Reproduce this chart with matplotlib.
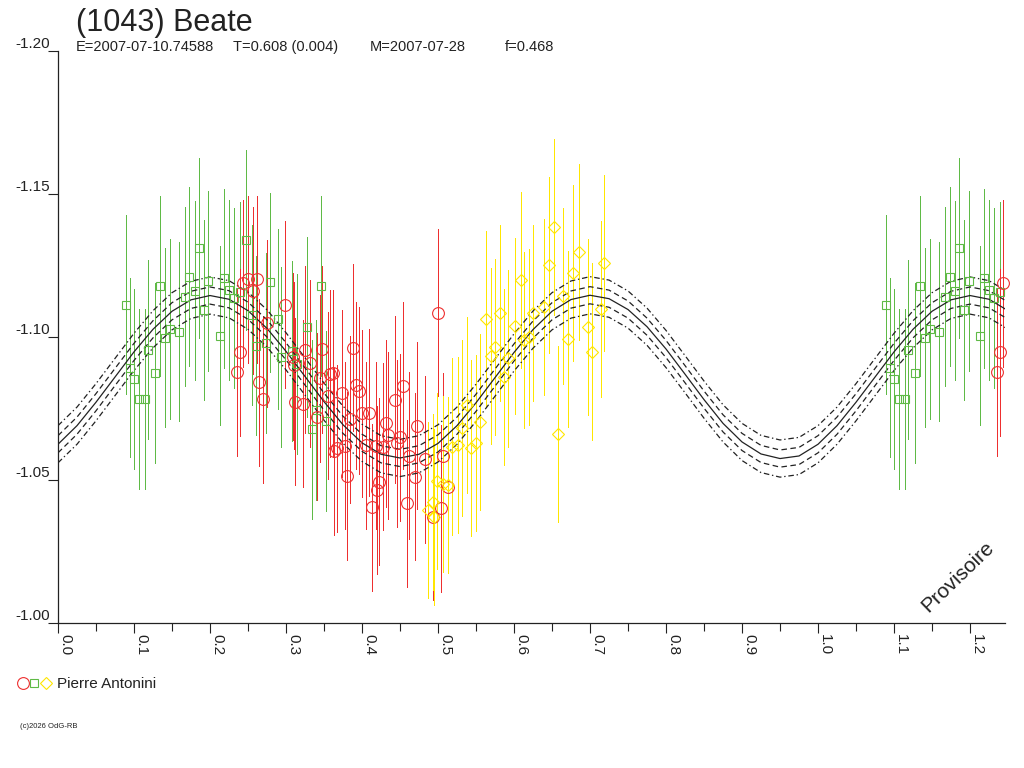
import numpy as np
import matplotlib
matplotlib.use("Agg")
import matplotlib.pyplot as plt
from matplotlib.lines import Line2D
from matplotlib.ticker import MultipleLocator, FormatStrFormatter

plt.rcParams['font.family'] = ['Liberation Sans', 'DejaVu Sans']
plt.rcParams['axes.unicode_minus'] = False
plt.rcParams['lines.scale_dashes'] = False

# fitted lightcurve, one rotation, phase step 0.025
fit_phase = np.linspace(0.0, 1.0, 41)
fit_mag = [-1.0625, -1.0690, -1.0772, -1.0860, -1.0948, -1.1027, -1.1090, -1.1130,
           -1.1145, -1.1132, -1.1092, -1.1030, -1.0950, -1.0862, -1.0774, -1.0693,
           -1.0630, -1.0590, -1.0577, -1.0590, -1.0628, -1.0690, -1.0770, -1.0858,
           -1.0946, -1.1026, -1.1090, -1.1131, -1.1146, -1.1134, -1.1096, -1.1036,
           -1.0958, -1.0870, -1.0781, -1.0698, -1.0633, -1.0591, -1.0575, -1.0584,
           -1.0625]
band_inner = 0.003
band_outer = 0.0065

# session 1 (green squares)
green_phase = [0.089, 0.095, 0.100, 0.107, 0.114, 0.119, 0.128, 0.134, 0.141, 0.147,
               0.159, 0.167, 0.173, 0.180, 0.186, 0.192, 0.198, 0.213, 0.218, 0.225,
               0.232, 0.239, 0.247, 0.255, 0.261, 0.274, 0.279, 0.289, 0.294, 0.308,
               0.314, 0.327, 0.334, 0.340, 0.346, 0.353]
green_mag = [-1.1113, -1.0893, -1.0854, -1.0784, -1.0784, -1.0956, -1.0875, -1.1178,
             -1.0998, -1.1029, -1.1019, -1.1141, -1.1211, -1.1162, -1.1312, -1.1094,
             -1.1195, -1.1005, -1.1205, -1.1165, -1.1136, -1.1158, -1.1339, -1.1077,
             -1.0970, -1.0980, -1.1191, -1.1062, -1.0931, -1.0951, -1.0906, -1.1036,
             -1.0677, -1.0745, -1.1178, -1.0707]
green_err = 0.0314

# session 2 (red circles)
red_phase = [0.2350, 0.2395, 0.2438, 0.2504, 0.2570, 0.2614, 0.2649, 0.2701, 0.2746,
             0.2987, 0.3096, 0.3105, 0.3118, 0.3228, 0.3250, 0.3316, 0.3404, 0.3447,
             0.3470, 0.3557, 0.3579, 0.3622, 0.3632, 0.3667, 0.3741, 0.3776, 0.3807,
             0.3842, 0.3886, 0.3921, 0.3964, 0.3996, 0.4050, 0.4096, 0.4128, 0.4190,
             0.4195, 0.4228, 0.4280, 0.4312, 0.4346, 0.4434, 0.4457, 0.4500, 0.4543,
             0.4588, 0.4622, 0.4697, 0.4728, 0.4829, 0.4930, 0.5004, 0.5036, 0.5070,
             0.5136]
red_mag = [-1.0877, -1.0947, -1.1188, -1.1202, -1.1162, -1.1202, -1.0842, -1.0782,
           -1.1048, -1.1113, -1.0931, -1.0902, -1.0774, -1.0766, -1.0955, -1.0908,
           -1.0721, -1.0856, -1.0958, -1.0794, -1.0871, -1.0873, -1.0601, -1.0611,
           -1.0803, -1.0620, -1.0514, -1.0712, -1.0963, -1.0832, -1.0812, -1.0733,
           -1.0622, -1.0735, -1.0405, -1.0619, -1.0465, -1.0494, -1.0617, -1.0698,
           -1.0657, -1.0780, -1.0629, -1.0649, -1.0830, -1.0419, -1.0585, -1.0512,
           -1.0690, -1.0572, -1.0372, -1.1085, -1.0401, -1.0583, -1.0477]
red_err = 0.0292

# session 3 (yellow diamonds)
yellow_phase = [0.4872, 0.4930, 0.4950, 0.4991, 0.5070, 0.5136, 0.5180, 0.5260, 0.5320,
                0.5378, 0.5430, 0.5500, 0.5553, 0.5632, 0.5693, 0.5750, 0.5816, 0.5868,
                0.5925, 0.6013, 0.6088, 0.6132, 0.6202, 0.6254, 0.6399, 0.6465, 0.6526,
                0.6583, 0.6649, 0.6706, 0.6780, 0.6855, 0.6969, 0.7030, 0.7145, 0.7188]
yellow_mag = [-1.0395, -1.0424, -1.0370, -1.0497, -1.0486, -1.0483, -1.0617, -1.0622,
              -1.0681, -1.0762, -1.0611, -1.0630, -1.0702, -1.1064, -1.0934, -1.0964,
              -1.1085, -1.0859, -1.0925, -1.1038, -1.1199, -1.0990, -1.0999, -1.1083,
              -1.1104, -1.1252, -1.1384, -1.0662, -1.1143, -1.0993, -1.1225, -1.1296,
              -1.1036, -1.0949, -1.1099, -1.1259]
yellow_err = 0.0308

xmax = 1.246

fig = plt.figure(figsize=(10.24, 7.68), dpi=100)
ax = fig.add_axes([58 / 1024, 1 - 623 / 768, (1005 - 58) / 1024, (623 - 51) / 768])


def wrap(ph, mg):
    ph = np.asarray(ph)
    mg = np.asarray(mg)
    keep = ph + 1 <= xmax
    return np.concatenate([ph, ph[keep] + 1]), np.concatenate([mg, mg[keep]])


series = [
    (green_phase, green_mag, green_err, '#5fba46', 's', 6.0),
    (red_phase, red_mag, red_err, '#ee2f2f', 'o', 8.5),
    (yellow_phase, yellow_mag, yellow_err, '#ffe600', 'D', 6.0),
]
for ph, mg, err, col, mk, ms in series:
    x, y = wrap(ph, mg)
    eb = ax.errorbar(x, y, yerr=err, fmt=mk, ms=ms, mfc='none', mec=col, mew=0.8,
                     ecolor=col, elinewidth=0.5, capsize=0, clip_on=False)
    for lc in eb.lines[2]:
        lc.set_antialiased(False)

# curve repeated past phase 1
fp = np.concatenate([fit_phase, fit_phase[1:11] + 1])
fm = np.concatenate([fit_mag, fit_mag[1:11]])
ax.plot(fp, fm, color='#222222', lw=0.9)
for off in (-band_inner, band_inner):
    ax.plot(fp, fm + off, color='#222222', lw=0.9, dashes=(4, 2.5))
for off in (-band_outer, band_outer):
    ax.plot(fp, fm + off, color='#222222', lw=0.9, dashes=(4, 2, 1, 2))

ax.set_xlim(0, xmax)
ax.set_ylim(-1.00, -1.20)
ax.spines['top'].set_visible(False)
ax.spines['right'].set_visible(False)
for s in ('left', 'bottom'):
    ax.spines[s].set_linewidth(0.9)
    ax.spines[s].set_color('#222222')

ax.xaxis.set_major_locator(MultipleLocator(0.1))
ax.xaxis.set_minor_locator(MultipleLocator(0.05))
ax.xaxis.set_major_formatter(FormatStrFormatter('%.1f'))
ax.yaxis.set_major_locator(MultipleLocator(0.05))
ax.yaxis.set_major_formatter(FormatStrFormatter('%.2f'))
ax.tick_params(axis='x', which='major', length=7.2, width=0.8, pad=1,
               labelsize=11, labelcolor='#222222', color='#222222')
ax.tick_params(axis='x', which='minor', length=5.8, width=0.8, color='#222222')
ax.tick_params(axis='y', which='major', length=7.2, width=0.8, pad=-1.5,
               labelsize=11, labelcolor='#222222', color='#222222')
for lab in ax.get_xticklabels():
    lab.set_rotation(-90)
    lab.set_ha('left')
    lab.set_va('top')
for lab in ax.get_yticklabels():
    lab.set_va('bottom')

# header
fig.text(76 / 1024, 1 - 31 / 768, '(1043) Beate', fontsize=22, color='#222222')
sub = [(76, 'E=2007-07-10.74588'), (233, 'T=0.608 (0.004)'),
       (370, 'M=2007-07-28'), (505, 'f=0.468')]
for xp, txt in sub:
    fig.text(xp / 1024, 1 - 51 / 768, txt, fontsize=10.5, color='#222222')

# observer legend
for xp, mk, col, ms in [(22.7, 'o', '#ee2f2f', 8.5), (34, 's', '#5fba46', 6.0),
                        (45.7, 'D', '#ffe600', 6.0)]:
    fig.add_artist(Line2D([xp / 1024], [1 - 683 / 768], transform=fig.transFigure,
                          marker=mk, ms=ms, mfc='none', mec=col, mew=0.8, ls='none'))
fig.text(57 / 1024, 1 - 688 / 768, 'Pierre Antonini', fontsize=11, color='#222222')

fig.text(20 / 1024, 1 - 728 / 768, '(c)2026 OdG-RB', fontsize=5.5, color='#222222')
fig.text(958 / 1024, 1 - 577 / 768, 'Provisoire', fontsize=15, rotation=44,
         ha='center', va='center', color='#222222')

fig.savefig('out.png', dpi=100)
